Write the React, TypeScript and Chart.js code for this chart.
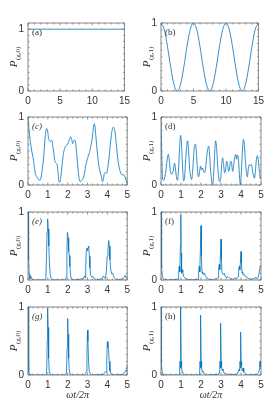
import React, { useEffect, useRef } from "react";
import { Chart, registerables } from "chart.js";
Chart.register(...registerables);

// ---------- data ----------
const tA = [0, 1, 2, 3, 4, 5, 6, 7, 8, 9, 10, 11, 12, 13, 14, 15];
const pA = [1, 1, 1, 1, 1, 1, 1, 1, 1, 1, 1, 1, 1, 1, 1, 1];

const tB = [0, 0.5, 1, 1.5, 2, 2.5, 3, 3.5, 4, 4.5, 5, 5.5, 6, 6.5, 7, 7.5, 8, 8.5, 9, 9.5, 10, 10.5, 11, 11.5, 12, 12.5, 13, 13.5, 14, 14.5, 15];
const pB = [1, 0.905, 0.655, 0.345, 0.095, 0, 0.095, 0.345, 0.655, 0.905, 1, 0.905, 0.655, 0.345, 0.095, 0, 0.095, 0.345, 0.655, 0.905, 1, 0.905, 0.655, 0.345, 0.095, 0, 0.095, 0.345, 0.655, 0.905, 1];

const tC = [0, 0.05, 0.1, 0.17, 0.23, 0.28, 0.33, 0.4, 0.47, 0.53, 0.6, 0.65, 0.7, 0.75, 0.8, 0.87, 0.93, 0.98, 1.03, 1.08, 1.13, 1.2, 1.25, 1.3, 1.35, 1.42, 1.47, 1.52, 1.57, 1.62, 1.67, 1.72, 1.78, 1.85, 1.92, 2.0, 2.05, 2.1, 2.15, 2.2, 2.25, 2.3, 2.35, 2.4, 2.45, 2.5, 2.55, 2.6, 2.65, 2.7, 2.78, 2.85, 2.92, 3.0, 3.05, 3.1, 3.15, 3.2, 3.25, 3.3, 3.34, 3.38, 3.43, 3.48, 3.53, 3.58, 3.63, 3.7, 3.76, 3.8, 3.85, 3.9, 3.95, 4.0, 4.05, 4.1, 4.15, 4.2, 4.25, 4.3, 4.35, 4.4, 4.45, 4.5, 4.55, 4.6, 4.67, 4.73, 4.8, 4.87, 4.93, 5.0];
const pC = [1.0, 0.82, 0.68, 0.53, 0.44, 0.36, 0.24, 0.14, 0.11, 0.08, 0.07, 0.1, 0.19, 0.3, 0.45, 0.72, 0.83, 0.81, 0.7, 0.65, 0.64, 0.66, 0.57, 0.47, 0.36, 0.32, 0.3, 0.16, 0.04, 0.05, 0.16, 0.3, 0.45, 0.54, 0.58, 0.6, 0.64, 0.68, 0.71, 0.67, 0.61, 0.65, 0.66, 0.62, 0.48, 0.3, 0.15, 0.06, 0.05, 0.07, 0.1, 0.18, 0.3, 0.39, 0.44, 0.48, 0.55, 0.62, 0.72, 0.85, 0.9, 0.85, 0.68, 0.52, 0.38, 0.27, 0.2, 0.12, 0.05, 0.09, 0.17, 0.18, 0.17, 0.22, 0.32, 0.45, 0.6, 0.73, 0.82, 0.85, 0.83, 0.75, 0.6, 0.45, 0.33, 0.25, 0.18, 0.15, 0.15, 0.13, 0.08, 0.02];

const tD = [0, 0.03, 0.07, 0.12, 0.18, 0.25, 0.32, 0.37, 0.42, 0.47, 0.52, 0.57, 0.62, 0.68, 0.73, 0.78, 0.83, 0.88, 0.93, 0.98, 1.03, 1.08, 1.13, 1.18, 1.23, 1.28, 1.33, 1.38, 1.43, 1.48, 1.53, 1.58, 1.63, 1.68, 1.73, 1.78, 1.83, 1.88, 1.93, 1.98, 2.03, 2.08, 2.13, 2.18, 2.23, 2.28, 2.33, 2.38, 2.43, 2.48, 2.53, 2.58, 2.63, 2.68, 2.73, 2.78, 2.83, 2.88, 2.93, 2.98, 3.03, 3.08, 3.13, 3.18, 3.23, 3.28, 3.33, 3.38, 3.43, 3.48, 3.53, 3.58, 3.63, 3.68, 3.73, 3.78, 3.83, 3.88, 3.93, 3.97, 4.02, 4.07, 4.12, 4.17, 4.22, 4.27, 4.32, 4.37, 4.42, 4.47, 4.52, 4.57, 4.62, 4.67, 4.72, 4.77, 4.82, 4.87, 4.92, 4.97, 5.0];
const pD = [1.0, 0.55, 0.15, 0.07, 0.1, 0.22, 0.4, 0.45, 0.35, 0.2, 0.16, 0.17, 0.22, 0.32, 0.22, 0.1, 0.07, 0.25, 0.55, 0.73, 0.58, 0.25, 0.06, 0.12, 0.35, 0.55, 0.65, 0.5, 0.25, 0.13, 0.08, 0.2, 0.42, 0.58, 0.6, 0.42, 0.2, 0.12, 0.2, 0.28, 0.22, 0.25, 0.2, 0.18, 0.25, 0.4, 0.52, 0.57, 0.45, 0.22, 0.07, 0.0, 0.15, 0.45, 0.65, 0.55, 0.3, 0.12, 0.05, 0.08, 0.28, 0.4, 0.3, 0.18, 0.22, 0.35, 0.3, 0.2, 0.25, 0.35, 0.32, 0.2, 0.28, 0.4, 0.45, 0.38, 0.44, 0.35, 0.1, 0.0, 0.2, 0.5, 0.67, 0.58, 0.35, 0.2, 0.12, 0.25, 0.3, 0.28, 0.3, 0.22, 0.15, 0.1, 0.2, 0.38, 0.43, 0.35, 0.2, 0.1, 0.12];

const tE = [0, 0.03, 0.06, 0.1, 0.15, 0.2, 0.3, 0.85, 0.9, 0.93, 0.96, 0.99, 1.02, 1.05, 1.08, 1.12, 1.17, 1.25, 1.9, 1.93, 1.96, 1.99, 2.02, 2.05, 2.08, 2.11, 2.15, 2.2, 2.3, 2.8, 2.85, 2.88, 2.91, 2.94, 2.97, 3.0, 3.03, 3.06, 3.09, 3.12, 3.16, 3.22, 3.28, 3.35, 3.45, 3.75, 3.8, 3.85, 3.9, 3.95, 3.99, 4.03, 4.07, 4.1, 4.13, 4.17, 4.22, 4.27, 4.32, 4.4, 4.5, 4.8, 4.85, 4.9, 4.95, 5.0];
const pE = [1.0, 0.3, 0.08, 0.02, 0.05, 0.01, 0, 0, 0.02, 0.3, 0.7, 0.9, 0.75, 0.5, 0.25, 0.08, 0.02, 0, 0, 0.05, 0.4, 0.7, 0.62, 0.42, 0.36, 0.2, 0.06, 0.01, 0, 0.02, 0.06, 0.03, 0.2, 0.44, 0.47, 0.43, 0.48, 0.5, 0.35, 0.18, 0.07, 0.04, 0.05, 0.02, 0, 0.02, 0.06, 0.04, 0.02, 0.12, 0.35, 0.45, 0.58, 0.5, 0.3, 0.15, 0.09, 0.1, 0.05, 0.02, 0, 0.02, 0.05, 0.07, 0.03, 0.05];

const tF = [0, 0.02, 0.04, 0.07, 0.12, 0.2, 0.3, 0.85, 0.88, 0.91, 0.94, 0.97, 0.99, 1.01, 1.03, 1.06, 1.09, 1.13, 1.2, 1.3, 1.5, 1.85, 1.88, 1.91, 1.94, 1.97, 2.0, 2.02, 2.05, 2.08, 2.12, 2.17, 2.22, 2.3, 2.4, 2.6, 2.7, 2.75, 2.85, 2.88, 2.91, 2.94, 2.97, 3.0, 3.02, 3.05, 3.08, 3.12, 3.16, 3.2, 3.28, 3.35, 3.45, 3.6, 3.7, 3.78, 3.85, 3.88, 3.91, 3.94, 3.97, 4.0, 4.02, 4.05, 4.08, 4.12, 4.17, 4.22, 4.3, 4.4, 4.5, 4.65, 4.75, 4.82, 4.88, 4.93, 4.97, 5.0];
const pF = [1.0, 0.2, 0.18, 0.05, 0.02, 0.01, 0.0, 0.01, 0.08, 0.2, 0.12, 0.5, 0.96, 0.4, 0.1, 0.15, 0.12, 0.05, 0.03, 0.01, 0.0, 0.01, 0.1, 0.2, 0.12, 0.45, 0.8, 0.35, 0.1, 0.12, 0.08, 0.1, 0.06, 0.03, 0.01, 0.0, 0.02, 0.01, 0.03, 0.15, 0.23, 0.15, 0.35, 0.6, 0.3, 0.1, 0.1, 0.08, 0.1, 0.06, 0.03, 0.05, 0.02, 0.01, 0.03, 0.02, 0.05, 0.12, 0.2, 0.15, 0.25, 0.42, 0.25, 0.1, 0.12, 0.07, 0.08, 0.05, 0.04, 0.02, 0.01, 0.02, 0.04, 0.02, 0.06, 0.15, 0.2, 0.22];

const tG = [0, 0.02, 0.05, 0.1, 0.2, 0.9, 0.94, 0.97, 0.99, 1.01, 1.04, 1.07, 1.12, 1.2, 1.9, 1.94, 1.97, 2.0, 2.02, 2.05, 2.08, 2.13, 2.2, 2.85, 2.9, 2.94, 2.97, 3.0, 3.02, 3.05, 3.08, 3.13, 3.2, 3.8, 3.85, 3.9, 3.94, 3.97, 4.0, 4.03, 4.06, 4.09, 4.13, 4.18, 4.3, 4.8, 4.88, 4.93, 4.97, 5.0];
const pG = [1.0, 0.35, 0.05, 0.01, 0, 0, 0.03, 0.5, 0.98, 0.7, 0.25, 0.06, 0.01, 0, 0, 0.04, 0.4, 0.83, 0.6, 0.25, 0.07, 0.01, 0, 0, 0.02, 0.05, 0.3, 0.66, 0.5, 0.22, 0.07, 0.02, 0, 0.01, 0.03, 0.05, 0.04, 0.25, 0.49, 0.4, 0.38, 0.2, 0.06, 0.02, 0, 0.01, 0.04, 0.07, 0.05, 0.15];

const tH = [0, 0.01, 0.03, 0.05, 0.1, 0.2, 0.9, 0.93, 0.95, 0.97, 0.99, 1.01, 1.03, 1.05, 1.08, 1.12, 1.2, 1.9, 1.93, 1.95, 1.97, 1.99, 2.01, 2.03, 2.05, 2.09, 2.14, 2.25, 2.85, 2.9, 2.93, 2.95, 2.97, 2.99, 3.01, 3.03, 3.06, 3.1, 3.15, 3.25, 3.8, 3.85, 3.9, 3.93, 3.95, 3.97, 3.99, 4.01, 4.03, 4.06, 4.1, 4.14, 4.2, 4.3, 4.8, 4.87, 4.92, 4.95, 4.97, 5.0];
const pH = [1.0, 0.2, 0.18, 0.05, 0.01, 0, 0, 0.05, 0.2, 0.1, 1.0, 0.2, 0.12, 0.05, 0.04, 0.01, 0, 0, 0.05, 0.2, 0.1, 0.88, 0.2, 0.12, 0.05, 0.06, 0.02, 0, 0.01, 0.03, 0.08, 0.2, 0.1, 0.76, 0.2, 0.12, 0.06, 0.09, 0.03, 0.01, 0.01, 0.04, 0.08, 0.06, 0.2, 0.1, 0.63, 0.2, 0.14, 0.06, 0.1, 0.04, 0.02, 0, 0.01, 0.03, 0.07, 0.2, 0.12, 0.2];

const panelLetters = ["a", "b", "c", "d", "e", "f", "g", "h"];
const yTickLabels = ["0", "1"];
const xLabelText = "ωt/2π";

// ---------- layout ----------
const COL_X = [0, 134];
const PLOT_LEFT = [28, 27];
const ROW_PLOT_TOP = [23, 117, 212, 307];
const CANVAS_W = 134;
const PLOT_W = 100;
const PLOT_H = 68;
const TOP_PAD = 10;
const X_AXIS_H = 17;

type Panel = {
  t: number[];
  p: number[];
  xMax: number;
  xStep: number;
  xMinor: number;
  yMax: number;
  sub: string;
  letter: string;
  italicLetter: boolean;
  smooth: boolean;
  row: number;
  col: number;
};

const panels: Panel[] = [
  { t: tA, p: pA, xMax: 15, xStep: 5, xMinor: 1, yMax: 1.1, sub: "(g,0)", letter: panelLetters[0], italicLetter: false, smooth: false, row: 0, col: 0 },
  { t: tB, p: pB, xMax: 15, xStep: 5, xMinor: 1, yMax: 1, sub: "(g,1)", letter: panelLetters[1], italicLetter: false, smooth: true, row: 0, col: 1 },
  { t: tC, p: pC, xMax: 5, xStep: 1, xMinor: 0.25, yMax: 1, sub: "(g,0)", letter: panelLetters[2], italicLetter: true, smooth: true, row: 1, col: 0 },
  { t: tD, p: pD, xMax: 5, xStep: 1, xMinor: 0.25, yMax: 1, sub: "(g,1)", letter: panelLetters[3], italicLetter: false, smooth: true, row: 1, col: 1 },
  { t: tE, p: pE, xMax: 5, xStep: 1, xMinor: 0.25, yMax: 1, sub: "(g,0)", letter: panelLetters[4], italicLetter: true, smooth: false, row: 2, col: 0 },
  { t: tF, p: pF, xMax: 5, xStep: 1, xMinor: 0.25, yMax: 1, sub: "(g,1)", letter: panelLetters[5], italicLetter: false, smooth: false, row: 2, col: 1 },
  { t: tG, p: pG, xMax: 5, xStep: 1, xMinor: 0.25, yMax: 1, sub: "(g,0)", letter: panelLetters[6], italicLetter: true, smooth: false, row: 3, col: 0 },
  { t: tH, p: pH, xMax: 5, xStep: 1, xMinor: 0.25, yMax: 1, sub: "(g,1)", letter: panelLetters[7], italicLetter: false, smooth: false, row: 3, col: 1 },
];

const SERIF = "'Liberation Serif', 'DejaVu Serif', serif";
const SANS = "'Liberation Sans', Arial, sans-serif";
const AXIS_COLOR = "#6a6a6a";

function canvasHeight(row: number) {
  return row === 3 ? 401 - (ROW_PLOT_TOP[3] - TOP_PAD) : 95;
}

function PanelChart({ panel }: { panel: Panel }) {
  const ref = useRef<HTMLCanvasElement | null>(null);
  useEffect(() => {
    if (!ref.current) return;
    const H = canvasHeight(panel.row);
    const plotLeft = PLOT_LEFT[panel.col];
    const padRight = CANVAS_W - plotLeft - PLOT_W;
    const padBottom = H - TOP_PAD - PLOT_H - X_AXIS_H;
    const showXLabel = panel.row === 3;

    const framePlugin = {
      id: "frame",
      afterDraw(chart: any) {
        const ctx = chart.ctx as CanvasRenderingContext2D;
        const { left, right, top, bottom } = chart.chartArea;
        const xs = chart.scales.x;
        const ys = chart.scales.y;
        ctx.save();
        ctx.strokeStyle = AXIS_COLOR;
        ctx.lineWidth = 0.8;
        ctx.beginPath();
        ctx.rect(left, top, right - left, bottom - top);
        ctx.stroke();
        ctx.lineWidth = 0.7;
        const nx = Math.round(panel.xMax / panel.xMinor);
        for (let i = 0; i <= nx; i++) {
          const v = i * panel.xMinor;
          const major = Math.abs(v / panel.xStep - Math.round(v / panel.xStep)) < 1e-6;
          const len = major ? 2.5 : 1.5;
          const px = xs.getPixelForValue(v);
          ctx.beginPath();
          ctx.moveTo(px, bottom);
          ctx.lineTo(px, bottom - len);
          ctx.moveTo(px, top);
          ctx.lineTo(px, top + len);
          ctx.stroke();
        }
        const ny = Math.round(panel.yMax / 0.1);
        for (let i = 0; i <= ny; i++) {
          const v = i * 0.1;
          const major = i === 0 || i === 10;
          const len = major ? 2.5 : 1.5;
          const py = ys.getPixelForValue(v);
          ctx.beginPath();
          ctx.moveTo(left, py);
          ctx.lineTo(left + len, py);
          ctx.moveTo(right, py);
          ctx.lineTo(right - len, py);
          ctx.stroke();
        }
        // panel letter
        ctx.fillStyle = "#333";
        ctx.font = (panel.italicLetter ? "italic " : "") + "9px " + SERIF;
        ctx.textAlign = "left";
        ctx.textBaseline = "middle";
        ctx.fillText("(" + panel.letter + ")", left + 4, top + 10);
        // y title
        const cy = (top + bottom) / 2;
        const cx = left - 15;
        ctx.save();
        ctx.translate(cx, cy);
        ctx.rotate(-Math.PI / 2);
        ctx.font = "italic 11px " + SERIF;
        const wP = ctx.measureText("P").width;
        ctx.font = "7px " + SERIF;
        const wS = ctx.measureText(panel.sub).width;
        const total = wP + wS + 0.5;
        ctx.textBaseline = "alphabetic";
        ctx.textAlign = "left";
        ctx.fillStyle = "#333";
        ctx.font = "italic 11px " + SERIF;
        ctx.fillText("P", -total / 2, 4);
        ctx.font = "7px " + SERIF;
        ctx.fillText(panel.sub, -total / 2 + wP + 0.5, 6.5);
        ctx.restore();
        if (showXLabel) {
          ctx.font = "italic 10px " + SERIF;
          ctx.textAlign = "center";
          ctx.textBaseline = "middle";
          ctx.fillStyle = "#333";
          ctx.fillText(xLabelText, (left + right) / 2, bottom + 20);
        }
        ctx.restore();
      },
    };

    const chart = new Chart(ref.current, {
      type: "line",
      data: {
        datasets: [
          {
            data: panel.t.map((x, i) => ({ x, y: panel.p[i] })),
            borderColor: "#0072BD",
            borderWidth: 0.8,
            pointRadius: 0,
            fill: false,
            tension: panel.smooth ? 0.4 : 0,
            cubicInterpolationMode: panel.smooth ? "monotone" : "default",
          },
        ],
      },
      options: {
        responsive: false,
        animation: false,
        devicePixelRatio: 1,
        layout: { padding: { left: 0, top: TOP_PAD, right: padRight, bottom: padBottom } },
        plugins: { legend: { display: false }, tooltip: { enabled: false } },
        scales: {
          x: {
            type: "linear",
            min: 0,
            max: panel.xMax,
            grid: { display: false, drawTicks: false },
            border: { display: false },
            ticks: {
              stepSize: panel.xStep,
              autoSkip: false,
              maxRotation: 0,
              padding: 4,
              color: "#333",
              font: { family: SANS, size: 10 },
            },
            afterFit(scale: any) {
              scale.height = X_AXIS_H;
            },
          },
          y: {
            type: "linear",
            min: 0,
            max: panel.yMax,
            grid: { display: false, drawTicks: false },
            border: { display: false },
            ticks: {
              padding: 4,
              color: "#333",
              font: { family: SANS, size: 10 },
              callback: (v: any) => yTickLabels[Math.round(Number(v))],
            },
            afterBuildTicks(scale: any) {
              scale.ticks = yTickLabels.map((s, i) => ({ value: i }));
            },
            afterFit(scale: any) {
              scale.width = plotLeft;
            },
          },
        },
      } as any,
      plugins: [framePlugin],
    });
    return () => chart.destroy();
  }, [panel]);

  const H = canvasHeight(panel.row);
  return (
    <canvas
      ref={ref}
      width={CANVAS_W}
      height={H}
      style={{
        position: "absolute",
        left: COL_X[panel.col],
        top: ROW_PLOT_TOP[panel.row] - TOP_PAD,
        width: CANVAS_W,
        height: H,
      }}
    />
  );
}

export default function App() {
  return (
    <div
      style={{
        position: "fixed",
        left: 0,
        top: 0,
        width: 269,
        height: 401,
        background: "#ffffff",
        overflow: "hidden",
      }}
    >
      {panels.map((p, i) => (
        <PanelChart key={i} panel={p} />
      ))}
    </div>
  );
}
